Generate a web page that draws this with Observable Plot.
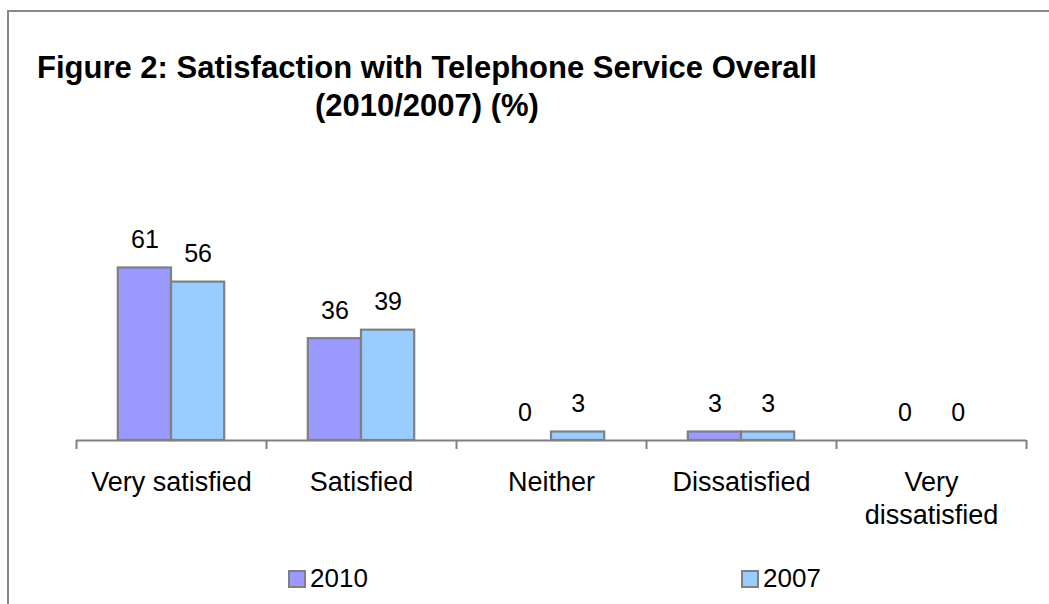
<!DOCTYPE html>
<html><head><meta charset="utf-8">
<script src="https://cdn.jsdelivr.net/npm/d3@7"></script>
<script src="https://cdn.jsdelivr.net/npm/@observablehq/plot@0.6"></script>
<style>
body{margin:0;background:#fff;font-family:"Liberation Sans",Arial,sans-serif;}
#wrap{position:relative;width:1049px;height:604px;overflow:hidden;background:#fff;}
#frame{position:absolute;left:7px;top:10px;width:2000px;height:2000px;border-left:2px solid #888;border-top:2px solid #888;}
#title{position:absolute;left:37px;top:49px;font-weight:bold;font-size:31px;line-height:38px;text-align:center;white-space:nowrap;color:#000;}
#chart{position:absolute;left:0;top:200px;}
#legend{position:absolute;left:288px;top:563px;display:flex;font-size:26px;color:#000;}
.item{display:flex;align-items:center;width:453px;}
.sw{width:14px;height:14px;border:2px solid #808080;margin-right:4px;}
</style></head>
<body><div id="wrap"><div id="frame"></div><div id="title"></div><div id="chart"></div><div id="legend"></div></div>
<script>
const titleLines = ["Figure 2: Satisfaction with Telephone Service Overall", "(2010/2007) (%)"];
const categories = ["Very satisfied", "Satisfied", "Neither", "Dissatisfied", "Very dissatisfied"];
const tickLabels = ["Very satisfied", "Satisfied", "Neither", "Dissatisfied", "Very\ndissatisfied"];
const series = ["2010", "2007"];
const values2010 = [61, 36, 0, 3, 0];
const values2007 = [56, 39, 3, 3, 0];
const colors = ["#9999FF", "#99CCFF"];

const seriesValues = [values2010, values2007];
const W = 1049, H = 350, ML = 76, MR = 23, MT = 42, MB = 110;
const step = (W - ML - MR) / categories.length;
const barW = step * 0.28;
const gap = (step - 2 * barW) / 2;
const grey = "#808080";

document.getElementById("title").innerHTML = titleLines.join("<br>");

const marks = [];
series.forEach((s, si) => {
  const rows = categories.map((c, i) => ({category: c, series: s, value: seriesValues[si][i]}));
  marks.push(Plot.barY(rows.filter(d => d.value > 0), {
    x: "category", y: "value", fill: colors[si], stroke: grey, strokeWidth: 2.2,
    insetLeft: gap + si * barW, insetRight: gap + (1 - si) * barW
  }));
  marks.push(Plot.text(rows, {
    x: "category", y: "value", text: d => String(d.value),
    dx: (si - 0.5) * barW, dy: -20, lineAnchor: "bottom", fontSize: 25, fill: "#000"
  }));
});
marks.push(Plot.ruleY([0], {stroke: grey, strokeWidth: 2}));
marks.push(Plot.ruleX(categories, {x: d => d, y1: 0, y2: 0, dx: -step / 2, insetBottom: -9, stroke: grey, strokeWidth: 2}));
marks.push(Plot.ruleX([categories[categories.length - 1]], {x: d => d, y1: 0, y2: 0, dx: step / 2, insetBottom: -9, stroke: grey, strokeWidth: 2}));
marks.push(Plot.text(categories, {
  x: d => d, y: 0, text: (d, i) => tickLabels[i], lineAnchor: "top", dy: 27,
  fontSize: 27, lineHeight: 1.22, fill: "#000"
}));

const chart = Plot.plot({
  width: W, height: H, marginLeft: ML, marginRight: MR, marginTop: MT, marginBottom: MB,
  style: {fontFamily: '"Liberation Sans", Arial, sans-serif', background: "transparent", overflow: "visible"},
  x: {type: "band", domain: categories, padding: 0, axis: null},
  y: {domain: [0, 70], axis: null},
  marks
});
document.getElementById("chart").appendChild(chart);

const legend = document.getElementById("legend");
series.forEach((s, si) => {
  const item = document.createElement("div");
  item.className = "item";
  const sw = document.createElement("span");
  sw.className = "sw";
  sw.style.background = colors[si];
  const lab = document.createElement("span");
  lab.textContent = s;
  item.appendChild(sw); item.appendChild(lab);
  legend.appendChild(item);
});
</script>
</body></html>
